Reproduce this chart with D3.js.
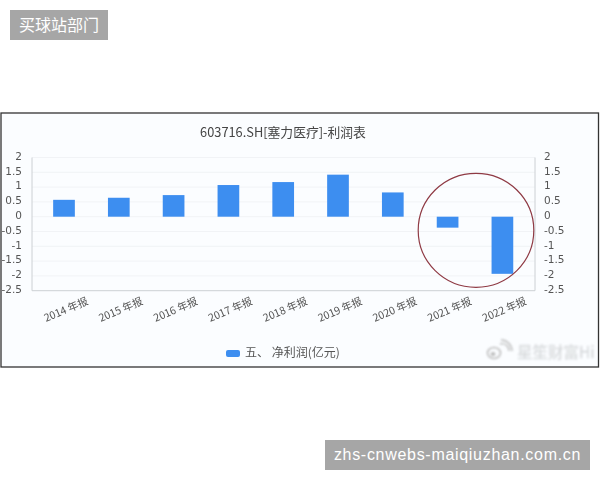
<!DOCTYPE html>
<html><head><meta charset="utf-8">
<style>html,body{margin:0;padding:0;background:#fff}svg{display:block}text{font-family:"Noto Sans CJK SC","DejaVu Sans",sans-serif}</style>
<script src="https://cdn.jsdelivr.net/npm/d3@7"></script>
</head><body><script>
const categories=["2014 年报","2015 年报","2016 年报","2017 年报","2018 年报","2019 年报","2020 年报","2021 年报","2022 年报"];
const netProfit=[0.57,0.64,0.73,1.07,1.17,1.42,0.82,-0.37,-1.93];
const tickValues=[2,1.5,1,0.5,0,-0.5,-1,-1.5,-2,-2.5];
const title="603716.SH[塞力医疗]-利润表";
const legendLabel="五、 净利润(亿元)";
const topBadge="买球站部门";
const bottomBadge="zhs-cnwebs-maiqiuzhan.com.cn";
const watermark="星笙财富Hi";

const svg=d3.select("body").append("svg").attr("width",600).attr("height",480);
const defs=svg.append("defs");
defs.append("filter").attr("id","soft").append("feGaussianBlur").attr("stdDeviation",0.5);
defs.append("filter").attr("id","softer").append("feGaussianBlur").attr("stdDeviation",0.8);
svg.append("rect").attr("width",600).attr("height",480).attr("fill","#fff");

// badges
svg.append("rect").attr("x",10).attr("y",10).attr("width",98).attr("height",30).attr("fill","#a6a6a6");
svg.append("text").attr("x",59).attr("y",31).attr("text-anchor","middle").attr("font-size",16).attr("fill","#fff").text(topBadge);
svg.append("rect").attr("x",325).attr("y",440).attr("width",265).attr("height",30).attr("fill","#a6a6a6");
svg.append("text").attr("x",457.5).attr("y",460).attr("text-anchor","middle").attr("font-size",16).attr("letter-spacing",0.7).attr("fill","#fff")
  .style("font-family","'Liberation Sans',sans-serif").text(bottomBadge);

// frame
svg.append("rect").attr("x",1).attr("y",113).attr("width",597.5).attr("height",254)
  .attr("fill","#fbfdff").attr("stroke","#333").attr("stroke-width",1.3);

const g=svg.append("g").attr("filter","url(#soft)");
const x=d3.scaleBand().domain(categories).range([36.6,529.8]).paddingInner(0.604).paddingOuter(0.302);
const y=d3.scaleLinear().domain([-2.5,2]).range([290.7,157.5]);

// gridlines
g.append("g").selectAll("line").data(tickValues.filter(v=>v!==-2.5)).join("line")
  .attr("x1",32).attr("x2",535).attr("y1",d=>y(d)).attr("y2",d=>y(d))
  .attr("stroke","#f1f3f6").attr("stroke-width",1);

// axis lines
g.append("path").attr("d",d3.line()([[32,y(2)],[32,y(-2.5)],[535,y(-2.5)],[535,y(2)]]))
  .attr("fill","none").attr("stroke","#ccd0d4").attr("stroke-width",1);

// bars
g.append("g").selectAll("rect").data(netProfit).join("rect")
  .attr("x",(d,i)=>x(categories[i])).attr("width",x.bandwidth())
  .attr("y",d=>y(Math.max(d,0))).attr("height",d=>Math.abs(y(d)-y(0)))
  .attr("fill","#3e8ef0");

// axes
const tickText=d=>d3.format("")(d).replace("−","-");
const left=d3.axisLeft(y).tickValues(tickValues).tickFormat(tickText).tickSize(0).tickPadding(10);
const right=d3.axisRight(y).tickValues(tickValues).tickFormat(tickText).tickSize(0).tickPadding(9);
const la=g.append("g").attr("transform","translate(32,-1.5)").call(left);
la.select(".domain").remove();
la.selectAll("text").attr("font-size",10.5).attr("fill","#555").style("font-family","'DejaVu Sans',sans-serif");
const ra=g.append("g").attr("transform","translate(535,-1.5)").call(right);
ra.select(".domain").remove();
ra.selectAll("text").attr("font-size",10.5).attr("fill","#555").style("font-family","'DejaVu Sans',sans-serif");

// category labels
g.append("g").selectAll("text").data(categories).join("text")
  .attr("transform",d=>`translate(${x(d)+x.bandwidth()/2+22},297) rotate(-23)`)
  .attr("text-anchor","end").attr("dy","0.7em").attr("font-size",10.5).attr("fill","#555").text(d=>d);

// title
g.append("text").attr("x",283).attr("y",137).attr("text-anchor","middle").attr("font-size",12.8).attr("fill","#444").text(title);

// legend
g.append("rect").attr("x",226).attr("y",350).attr("width",14).attr("height",7).attr("rx",2).attr("fill","#3e8ef0");
g.append("text").attr("x",245).attr("y",357).attr("font-size",12).attr("fill","#555").text(legendLabel);

// circle annotation
svg.append("ellipse").attr("cx",476).attr("cy",230.3).attr("rx",57.8).attr("ry",57)
  .attr("fill","none").attr("stroke","#8f3a44").attr("stroke-width",1.2);

// watermark
const wm=svg.append("g").attr("filter","url(#softer)");
wm.append("ellipse").attr("cx",494).attr("cy",353).attr("rx",6.5).attr("ry",5.5).attr("fill","none").attr("stroke","#bdbdbd").attr("stroke-width",1.6);
wm.append("ellipse").attr("cx",493).attr("cy",354).attr("rx",2.5).attr("ry",2).attr("fill","#bdbdbd");
wm.append("path").attr("d","M500 344a7 7 0 0 1 9 7").attr("fill","none").attr("stroke","#bdbdbd").attr("stroke-width",1.4);
wm.append("path").attr("d","M501 340a11 11 0 0 1 11 11").attr("fill","none").attr("stroke","#bdbdbd").attr("stroke-width",1.4);
wm.append("text").attr("x",517).attr("y",358).attr("font-size",15.5).attr("fill","#c9ccd0").attr("stroke","#e6e8ea").attr("stroke-width",0.6).text(watermark);
</script></body></html>
